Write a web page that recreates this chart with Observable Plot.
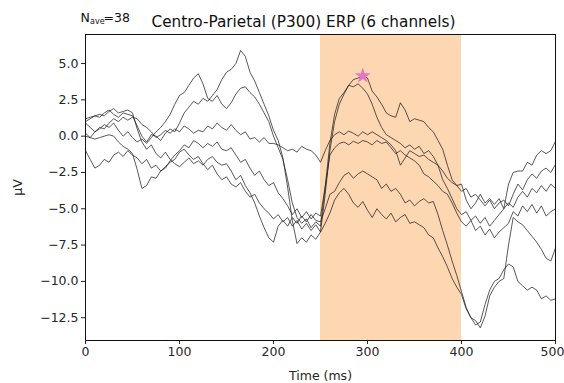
<!DOCTYPE html>
<html><head><meta charset="utf-8">
<script src="https://cdn.jsdelivr.net/npm/d3@7"></script>
<script src="https://cdn.jsdelivr.net/npm/@observablehq/plot@0.6"></script>
<style>html,body{margin:0;padding:0;background:#fff;}</style>
</head><body><div id="chart"></div>
<script>
// sample times (ms), 5 ms apart
const times = d3.range(0, 505, 5);
// channel values (µV)
const chA = [1.0,1.2,1.4,1.3,1.6,1.8,1.5,1.3,1.6,1.5,
  1.4,0.7,0.0,-0.4,0.1,0.0,-0.3,0.2,0.5,0.3,
  0.9,1.6,2.0,2.4,2.2,2.6,2.4,2.8,3.2,3.9,
  4.4,4.6,5.0,5.9,5.5,4.4,3.8,3.0,2.2,1.4,
  0.4,-0.3,-1.5,-3.5,-5.8,-7.4,-7.0,-7.3,-6.8,-7.1,
  -6.6,-4.0,-1.0,1.0,2.2,2.9,3.5,3.9,4.0,4.15,
  4.0,3.1,2.7,2.2,1.6,1.4,1.3,2.3,1.8,1.0,
  1.2,1.1,1.0,0.6,0.3,-0.3,-0.9,-2.0,-3.0,-3.4,
  -3.3,-4.4,-5.0,-4.6,-4.0,-4.6,-4.3,-4.7,-4.3,-5.0,
  -3.3,-2.5,-2.4,-2.4,-1.8,-2.0,-1.3,-1.0,-1.2,-1.0,
  -0.35];
const chB = [0.9,0.6,0.3,0.5,0.8,0.6,0.9,0.4,0.0,0.3,
  -0.1,-0.4,-0.2,-0.5,-0.1,0.3,0.6,1.0,1.5,2.2,
  2.8,3.0,3.5,4.0,4.3,3.6,2.6,2.4,2.8,2.2,
  1.9,2.3,2.9,3.3,3.4,3.0,2.7,2.2,1.6,1.0,
  0.0,-0.8,-1.6,-3.0,-4.6,-5.6,-6.0,-5.7,-6.3,-5.9,
  -6.2,-3.5,-0.5,1.5,2.6,3.0,3.5,3.4,3.6,3.3,
  2.9,2.2,1.3,0.6,0.1,-0.1,-0.3,-0.5,-0.8,-0.6,
  -0.9,-0.7,-1.2,-1.0,-1.4,-2.0,-2.4,-2.9,-3.2,-3.4,
  -3.8,-3.6,-4.2,-4.0,-4.4,-4.8,-4.4,-5.0,-4.6,-4.4,
  -4.8,-4.0,-3.3,-3.7,-3.0,-2.6,-2.9,-2.4,-2.2,-2.5,
  -1.94];
const chC = [0.2,-0.1,0.3,0.6,0.5,0.9,1.2,1.0,1.3,1.1,
  1.3,1.2,0.8,0.6,0.3,-0.1,0.1,0.4,0.2,0.5,
  0.3,0.7,0.5,0.2,0.4,0.3,0.7,0.5,0.9,0.6,
  0.4,0.8,0.4,0.1,0.3,-0.2,-0.1,-0.4,-0.1,-0.5,
  -0.5,-0.6,-0.8,-1.0,-0.9,-1.1,-0.7,-0.9,-1.0,-1.3,
  -1.8,-1.0,-0.3,0.1,0.3,0.1,0.35,0.2,0.0,0.3,
  0.1,0.3,0.1,-0.1,-0.3,-0.6,-1.0,-2.0,-1.5,-1.0,
  -1.2,-1.4,-1.3,-1.6,-1.8,-2.0,-3.0,-3.6,-4.3,-5.0,
  -5.4,-5.2,-5.8,-5.5,-6.0,-5.6,-6.2,-5.8,-5.4,-5.0,
  -4.6,-4.9,-4.2,-3.8,-4.2,-3.6,-3.9,-3.4,-3.8,-3.3,
  -3.6];
const chD = [-1.0,-1.6,-2.2,-2.0,-1.6,-1.8,-1.3,-1.1,-1.4,-1.0,
  -1.3,-1.5,-1.9,-1.6,-2.2,-2.0,-2.4,-2.2,-1.7,-1.3,
  -1.0,-0.6,-0.8,-0.3,-0.5,-0.8,-0.5,-0.7,-0.4,-0.9,
  -1.0,-0.8,-1.3,-1.8,-1.6,-2.2,-2.7,-2.4,-3.0,-3.4,
  -3.2,-3.9,-4.3,-4.8,-5.4,-5.0,-5.6,-5.2,-5.7,-5.3,
  -5.5,-3.5,-1.3,-0.8,-0.5,-0.4,-0.6,-0.35,-0.5,-0.3,
  -0.4,-0.6,-0.3,-0.5,-0.4,-0.8,-1.2,-1.0,-1.3,-1.5,
  -1.7,-2.0,-2.6,-2.8,-3.1,-3.4,-3.8,-4.0,-4.6,-5.3,
  -5.9,-6.2,-5.8,-6.5,-6.2,-6.8,-6.4,-7.0,-6.6,-6.3,
  -6.0,-5.2,-5.5,-4.8,-5.2,-4.7,-5.3,-4.8,-5.5,-5.2,
  -5.0];
const chE = [0.0,-0.1,-0.2,-0.1,0.0,0.1,0.0,-0.4,-0.7,-0.9,
  -1.2,-2.3,-3.6,-3.4,-2.8,-2.9,-2.4,-2.1,-1.8,-1.6,
  -1.1,-0.9,-1.3,-1.6,-1.4,-1.9,-2.3,-2.0,-2.6,-3.0,
  -2.8,-3.3,-3.5,-3.2,-3.8,-4.2,-4.0,-4.6,-5.0,-5.3,
  -5.7,-5.4,-5.9,-5.6,-6.2,-5.8,-6.4,-6.0,-6.5,-6.1,
  -6.6,-6.0,-5.3,-4.4,-3.9,-3.6,-4.0,-4.6,-4.9,-4.5,
  -5.1,-5.6,-5.0,-5.4,-5.7,-5.3,-5.9,-5.6,-5.4,-6.0,
  -5.9,-6.1,-6.3,-6.8,-7.0,-7.7,-8.3,-9.0,-9.8,-10.4,
  -10.9,-11.9,-12.5,-12.7,-13.2,-12.4,-11.0,-10.4,-10.0,-9.8,
  -7.5,-5.6,-5.9,-6.1,-6.5,-6.9,-7.3,-7.8,-8.4,-8.6,
  -7.7];
const chF = [1.2,1.3,1.4,1.5,1.4,1.7,1.9,1.6,1.7,1.8,
  1.6,0.5,-0.4,-0.9,-0.6,-1.2,-1.5,-1.1,-1.6,-1.9,
  -2.1,-1.8,-1.5,-1.9,-1.7,-2.0,-1.6,-1.4,-1.8,-2.0,
  -1.9,-2.4,-3.0,-2.7,-3.4,-3.9,-4.6,-5.5,-6.3,-7.0,
  -7.3,-6.2,-5.8,-6.2,-5.6,-6.0,-5.5,-5.9,-5.4,-5.8,
  -5.9,-5.0,-4.0,-3.8,-3.2,-2.7,-2.5,-2.9,-2.6,-2.4,
  -2.6,-2.8,-3.0,-3.6,-3.3,-3.8,-3.6,-4.0,-4.6,-4.4,
  -4.8,-4.5,-4.3,-4.6,-4.5,-5.4,-6.5,-7.5,-8.6,-9.6,
  -10.7,-11.8,-12.5,-13.0,-12.8,-11.6,-10.6,-10.0,-9.8,-9.2,
  -8.8,-9.0,-10.0,-10.3,-10.6,-10.4,-10.6,-11.2,-11.0,-11.3,
  -11.2];
const channels = ["CP1", "CPz", "CP2", "P3", "Pz", "P4"];
const series = [chA, chB, chC, chD, chE, chF];
const windowStart = 250, windowEnd = 400;
const xTicks = [0, 100, 200, 300, 400, 500];
const yTicks = [-12.5, -10, -7.5, -5, -2.5, 0, 2.5, 5];
const titleText = "Centro-Parietal (P300) ERP (6 channels)";
const nAve = 38;

const rows = series.flatMap((vals, i) => vals.map((v, j) => ({ch: channels[i], t: times[j], v})));
const inWin = rows.filter(d => d.t >= windowStart && d.t <= windowEnd);
const peak = d3.greatest(inWin, d => d.v);
const fmt = d => (d < 0 ? "\u2212" : "") + Math.abs(d).toFixed(1);
const lastX = xTicks[xTicks.length - 1];

const plot = Plot.plot({
  width: 564, height: 383,
  marginLeft: 85, marginRight: 9, marginTop: 34, marginBottom: 43,
  style: {fontFamily: "DejaVu Sans", fontSize: "12.5px", color: "#262626", background: "#fff"},
  x: {domain: [0, 500]},
  y: {domain: [-14.07, 7.0]},
  marks: [
    Plot.rect([{x1: windowStart, x2: windowEnd}], {x1: "x1", x2: "x2", fill: "#fdd6b2"}),
    Plot.line(rows, {x: "t", y: "v", z: "ch", stroke: "#222", strokeOpacity: 0.75, strokeWidth: 1}),
    Plot.dot([peak], {x: "t", y: "v", symbol: "star", fill: "#e377c2", stroke: "none", r: 5}),
    Plot.axisX({ticks: xTicks, tickFormat: d => d === lastX ? "" : String(d), tickSize: 4, tickPadding: 3, label: "Time (ms)", labelAnchor: "center", labelArrow: "none", labelOffset: 39}),
    Plot.axisX({ticks: [lastX], tickSize: 0, tickPadding: 7, label: null, dx: -3}),
    Plot.axisY({ticks: yTicks, tickFormat: fmt, tickSize: 4, tickPadding: 3, label: "µV", labelAnchor: "center", labelArrow: "none", labelOffset: 72}),
    Plot.frame({stroke: "#111", strokeWidth: 1}),
    Plot.text([titleText], {frameAnchor: "top-left", dx: 66, dy: -8, textAnchor: "start", lineAnchor: "bottom", fontSize: 15.3, fill: "#111"}),
    Plot.text(["N"], {frameAnchor: "top-left", dx: -5, dy: -13, textAnchor: "start", lineAnchor: "bottom", fontSize: 12.5, fill: "#111"}),
    Plot.text(["ave"], {frameAnchor: "top-left", dx: 4.5, dy: -11, textAnchor: "start", lineAnchor: "bottom", fontSize: 8, fill: "#111"}),
    Plot.text(["=" + nAve], {frameAnchor: "top-left", dx: 18, dy: -13, textAnchor: "start", lineAnchor: "bottom", fontSize: 12.5, fill: "#111"})
  ]
});
document.getElementById("chart").appendChild(plot);
</script>
</body></html>
